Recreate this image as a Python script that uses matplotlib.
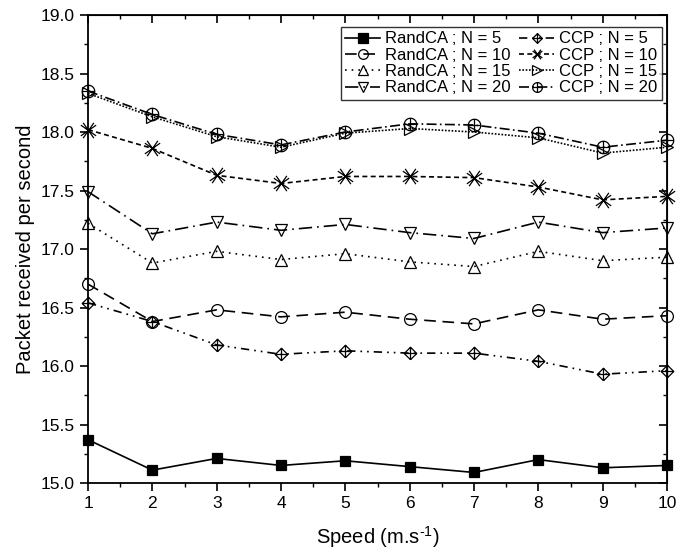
import numpy as np
import matplotlib
matplotlib.use("Agg")
import matplotlib.pyplot as plt
from matplotlib.path import Path
from matplotlib.ticker import MultipleLocator, FormatStrFormatter

plt.rcParams['font.family'] = ['Liberation Sans', 'DejaVu Sans']
plt.rcParams['mathtext.fontset'] = 'custom'
plt.rcParams['mathtext.rm'] = 'Liberation Sans'
plt.rcParams['mathtext.it'] = 'Liberation Sans'

# data
speed = [1, 2, 3, 4, 5, 6, 7, 8, 9, 10]

randca_5 = [15.37, 15.11, 15.21, 15.15, 15.19, 15.14, 15.09, 15.20, 15.13, 15.15]
randca_10 = [16.70, 16.38, 16.48, 16.42, 16.46, 16.40, 16.36, 16.48, 16.40, 16.43]
randca_15 = [17.22, 16.88, 16.98, 16.91, 16.96, 16.89, 16.85, 16.98, 16.90, 16.93]
randca_20 = [17.49, 17.13, 17.23, 17.16, 17.21, 17.14, 17.09, 17.23, 17.14, 17.18]

ccp_5 = [16.54, 16.38, 16.18, 16.10, 16.13, 16.11, 16.11, 16.04, 15.93, 15.96]
ccp_10 = [18.02, 17.86, 17.63, 17.56, 17.62, 17.62, 17.61, 17.53, 17.42, 17.45]
ccp_15 = [18.33, 18.13, 17.96, 17.87, 17.99, 18.03, 18.00, 17.95, 17.82, 17.87]
ccp_20 = [18.35, 18.15, 17.98, 17.89, 18.00, 18.07, 18.06, 17.99, 17.87, 17.93]


def compound(*parts):
    verts, codes = [], []
    for p in parts:
        for i, v in enumerate(p):
            verts.append(v)
            codes.append(Path.MOVETO if i == 0 else Path.LINETO)
    return Path(verts, codes)


# combined markers (diamond+plus, circle+plus, double cross)
diamond_plus = compound([(0, -1), (1, 0), (0, 1), (-1, 0), (0, -1)],
                        [(-1, 0), (1, 0)], [(0, -1), (0, 1)])
t = np.linspace(0, 2 * np.pi, 40)
circle_plus = compound(list(zip(np.cos(t), np.sin(t))),
                       [(-1, 0), (1, 0)], [(0, -1), (0, 1)])
a1, a2 = np.radians(35), np.radians(55)
double_x = compound([(-np.cos(a1), -np.sin(a1)), (np.cos(a1), np.sin(a1))],
                    [(-np.cos(a1), np.sin(a1)), (np.cos(a1), -np.sin(a1))],
                    [(-np.cos(a2), -np.sin(a2)), (np.cos(a2), np.sin(a2))],
                    [(-np.cos(a2), np.sin(a2)), (np.cos(a2), -np.sin(a2))])

series = [
    (randca_5, 'RandCA ; N = 5', '-', 's', 7.5, 'black'),
    (ccp_5, 'CCP ; N = 5', (0, (5, 3, 1, 3, 1, 3)), diamond_plus, 9, 'none'),
    (randca_10, 'RandCA ; N = 10', (0, (7, 4)), 'o', 8.5, 'none'),
    (ccp_10, 'CCP ; N = 10', (0, (3, 2)), double_x, 11, 'none'),
    (randca_15, 'RandCA ; N = 15', (0, (1, 3)), '^', 9, 'none'),
    (ccp_15, 'CCP ; N = 15', (0, (1, 1)), '>', 9, 'none'),
    (randca_20, 'RandCA ; N = 20', (0, (8, 3, 1, 3)), 'v', 9, 'none'),
    (ccp_20, 'CCP ; N = 20', (0, (6, 2, 1, 2)), circle_plus, 9, 'none'),
]

fig = plt.figure(figsize=(6.78, 5.52), dpi=100)
ax = fig.add_axes([0.1298, 0.125, 0.854, 0.8478])

handles = {}
for vals, label, ls, mk, ms, fc in series:
    h, = ax.plot(speed, vals, linestyle=ls, color='black', linewidth=1.2,
                 marker=mk, markersize=ms, markerfacecolor=fc,
                 markeredgecolor='black', markeredgewidth=0.9, label=label,
                 clip_on=False)
    handles[label] = h

ax.set_xlim(1, 10)
ax.set_ylim(15.0, 19.0)
ax.xaxis.set_major_locator(MultipleLocator(1))
ax.xaxis.set_minor_locator(MultipleLocator(0.5))
ax.yaxis.set_major_locator(MultipleLocator(0.5))
ax.yaxis.set_minor_locator(MultipleLocator(0.25))
ax.yaxis.set_major_formatter(FormatStrFormatter('%.1f'))

ax.tick_params(which='major', direction='out', length=6, width=1.2,
               labelsize=12.5, top=False, right=False)
ax.tick_params(which='minor', direction='out', length=3, width=1.0,
               top=False, right=False)
for s in ax.spines.values():
    s.set_linewidth(1.3)

# inward ticks on the top and right edges
secx = ax.secondary_xaxis('top')
secx.xaxis.set_major_locator(MultipleLocator(1))
secx.xaxis.set_minor_locator(MultipleLocator(0.5))
secx.tick_params(which='major', direction='in', length=6, width=1.2, labeltop=False)
secx.tick_params(which='minor', direction='in', length=3, width=1.0)
secy = ax.secondary_yaxis('right')
secy.yaxis.set_major_locator(MultipleLocator(0.5))
secy.yaxis.set_minor_locator(MultipleLocator(0.25))
secy.tick_params(which='major', direction='in', length=6, width=1.2, labelright=False)
secy.tick_params(which='minor', direction='in', length=3, width=1.0)

ax.set_xlabel(r'Speed (m.s$^{\text{-1}}$)', fontsize=14.5, labelpad=9)
ax.set_ylabel('Packet received per second', fontsize=14.5, labelpad=4)

order = ['RandCA ; N = 5', 'RandCA ; N = 10', 'RandCA ; N = 15', 'RandCA ; N = 20',
         'CCP ; N = 5', 'CCP ; N = 10', 'CCP ; N = 15', 'CCP ; N = 20']
leg = ax.legend([handles[k] for k in order], order, ncol=2, loc='upper right',
                bbox_to_anchor=(0.991, 0.974), fontsize=12, frameon=True,
                fancybox=False, edgecolor='black', handlelength=2.1,
                handletextpad=0.3, columnspacing=0.5, labelspacing=0.08,
                borderpad=0.25, borderaxespad=0.0)
leg.get_frame().set_linewidth(1.0)
for h in leg.legend_handles:
    h.set_markersize(7)

fig.savefig('out.png', dpi=100)
